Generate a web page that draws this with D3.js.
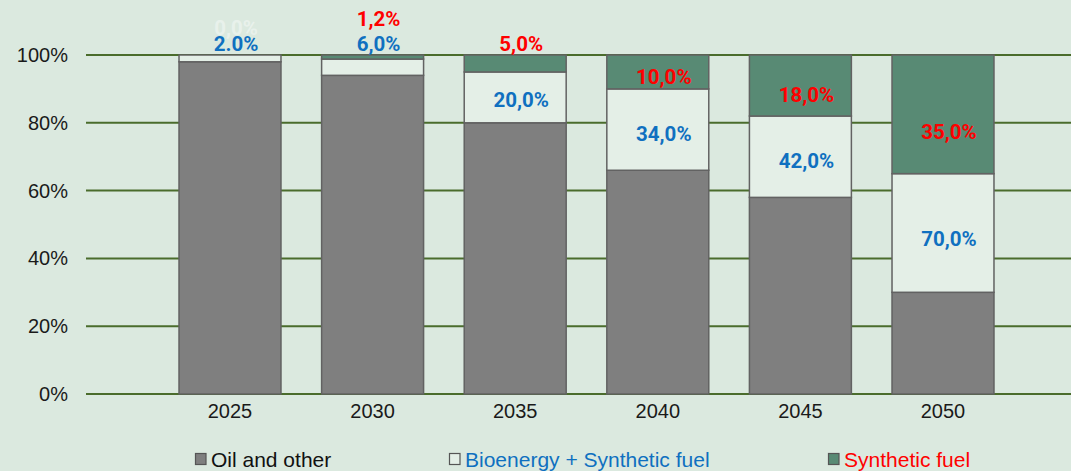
<!DOCTYPE html>
<html>
<head>
<meta charset="utf-8">
<script src="https://cdn.jsdelivr.net/npm/d3@7"></script>
<style>
  body { margin: 0; background: #dbe9df; }
  svg { display: block; }
</style>
</head>
<body>
<div id="chart"></div>
<script>
var w = 1071;
var h = 471;

// data (percent of total)
var years = ["2025", "2030", "2035", "2040", "2045", "2050"];
var oilShare = [98, 94, 80, 66, 58, 30];
var bioSynthTotal = [2, 6, 20, 34, 42, 70];   // blue labels: bioenergy + synthetic fuel
var synthShare = [0, 1.2, 5, 10, 18, 35];      // red labels: synthetic fuel
var blueLabels = ["2.0%", "6,0%", "20,0%", "34,0%", "42,0%", "70,0%"];
var redLabels = ["0,0%", "1,2%", "5,0%", "10,0%", "18,0%", "35,0%"];
var yTicks = [0, 20, 40, 60, 80, 100];
var seriesNames = ["Oil and other", "Bioenergy + Synthetic fuel", "Synthetic fuel"];

var colors = {oil: "#7f7f7f", bio: "#e4efe7", syn: "#588a74"};
var blue = "#0f70c0", red = "#ff0000";

var svg = d3.select("#chart").append("svg")
    .attr("width", w)
    .attr("height", h);

svg.append("rect")
    .attr("width", w)
    .attr("height", h)
    .attr("fill", "#dbe9df");

var x = d3.scaleBand()
    .domain(years)
    .range([158.7, 1014.3])
    .paddingInner(0.285)
    .paddingOuter(0.1425);

var y = d3.scaleLinear()
    .domain([0, 100])
    .range([394, 55]);

// gridlines
svg.append("g")
    .selectAll("line")
    .data(yTicks)
    .join("line")
    .attr("x1", 86)
    .attr("x2", w)
    .attr("y1", function(d) { return y(d); })
    .attr("y2", function(d) { return y(d); })
    .attr("stroke", "#4a6c2c")
    .attr("stroke-width", 2);

// y axis labels
var yAxis = d3.axisLeft(y)
    .tickValues(yTicks)
    .tickSize(0)
    .tickPadding(0)
    .tickFormat(function(d) { return d + "%"; });

var ya = svg.append("g")
    .attr("transform", "translate(68,0)")
    .call(yAxis);
ya.select(".domain").remove();
ya.selectAll("text")
    .attr("font-family", "Liberation Sans, Arial, sans-serif")
    .attr("font-size", 20)
    .attr("fill", "#1a1a1a");

// x axis labels
var xAxis = d3.axisBottom(x).tickSize(0).tickPadding(0);
var xa = svg.append("g")
    .attr("transform", "translate(0,404)")
    .call(xAxis);
xa.select(".domain").remove();
xa.selectAll("text")
    .attr("font-family", "Liberation Sans, Arial, sans-serif")
    .attr("font-size", 20)
    .attr("fill", "#1a1a1a");

// stacked segments
var rows = years.map(function(yr, i) {
    return {
        year: yr,
        oil: oilShare[i],
        bio: bioSynthTotal[i] - synthShare[i],
        syn: synthShare[i]
    };
});
var stack = d3.stack().keys(["oil", "bio", "syn"]);
var layers = stack(rows);

svg.append("g")
    .selectAll("g")
    .data(layers)
    .join("g")
    .attr("fill", function(d) { return colors[d.key]; })
    .selectAll("rect")
    .data(function(d) { return d.filter(function(s) { return s[1] - s[0] > 0; }); })
    .join("rect")
    .attr("x", function(d) { return x(d.data.year); })
    .attr("y", function(d) { return y(d[1]); })
    .attr("width", x.bandwidth())
    .attr("height", function(d) { return y(d[0]) - y(d[1]); })
    .attr("stroke", "#626262")
    .attr("stroke-width", 1.5);

// data labels
var labelFont = "Roboto, sans-serif";
var dx = 6;
var small = 8; // segments thinner than this get their label above the bar

function labelSpot(i) {
    var oil = oilShare[i], syn = synthShare[i], bio = bioSynthTotal[i] - syn;
    var spot = {};
    if (bio >= small) {
        spot.blue = y(oil + bio * 0.45);
    } else {
        spot.blue = y(100) - 11;
    }
    if (syn >= small) {
        spot.red = y(oil + bio + syn * 0.35);
    } else if (bio >= small) {
        spot.red = y(100) - 11;
    } else {
        spot.red = spot.blue - (i === 0 ? 16 : 25);
    }
    return spot;
}

var labels = svg.append("g")
    .attr("font-family", labelFont)
    .attr("font-weight", "bold")
    .attr("font-size", 20.5)
    .attr("text-anchor", "middle");

years.forEach(function(yr, i) {
    var spot = labelSpot(i);
    var cx = x(yr) + x.bandwidth() / 2 + dx;
    labels.append("text")
        .attr("x", cx)
        .attr("y", spot.red)
        .attr("dy", "0.35em")
        .attr("fill", i === 0 ? "#ffffff" : red)
        .attr("fill-opacity", i === 0 ? 0.4 : 1)
        .text(redLabels[i]);
    labels.append("text")
        .attr("x", cx)
        .attr("y", spot.blue)
        .attr("dy", "0.35em")
        .attr("fill", blue)
        .text(blueLabels[i]);
});

// legend
var legendX = [195, 449, 828];
var legendColors = [colors.oil, colors.bio, colors.syn];
var legendText = ["#111111", blue, red];

var legend = svg.append("g")
    .selectAll("g")
    .data(seriesNames)
    .join("g")
    .attr("transform", function(d, i) { return "translate(" + legendX[i] + ",453)"; });

legend.append("rect")
    .attr("x", 0.5)
    .attr("y", 0.5)
    .attr("width", 10.5)
    .attr("height", 11)
    .attr("fill", function(d, i) { return legendColors[i]; })
    .attr("stroke", "#555555")
    .attr("stroke-width", 1.2);

legend.append("text")
    .attr("x", 16)
    .attr("y", 14)
    .attr("font-family", "Liberation Sans, Arial, sans-serif")
    .attr("font-size", 21)
    .attr("fill", function(d, i) { return legendText[i]; })
    .text(function(d) { return d; });
</script>
</body>
</html>
